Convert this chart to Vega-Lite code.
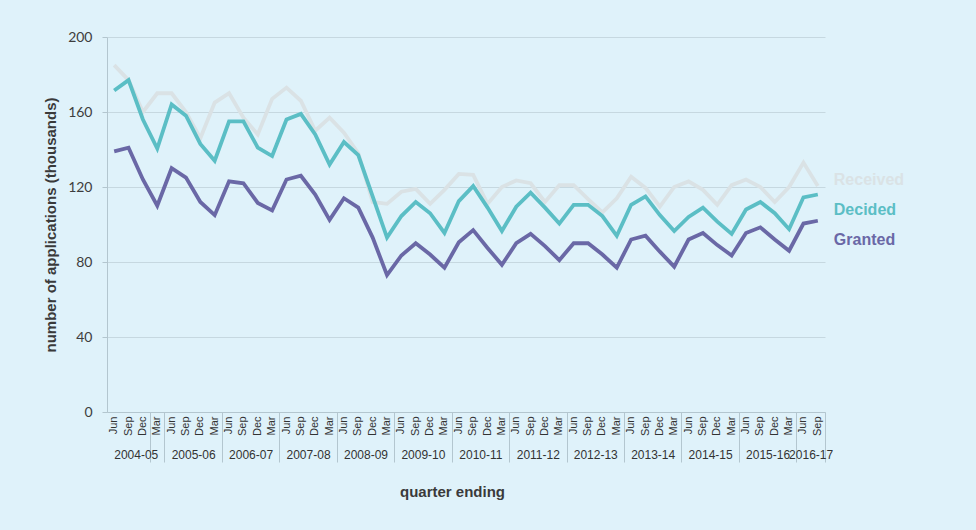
{
  "$schema": "https://vega.github.io/schema/vega-lite/v6.json",
  "autosize": "none",
  "width": 718,
  "height": 375,
  "padding": {"left": 107, "top": 37, "right": 151, "bottom": 118},
  "background": "#dff2fa",
  "config": {"view": {"stroke": null}},
  "datasets": {
    "apps": [
      {"period": "2004-05 Jun", "Received": 185, "Decided": 171.5, "Granted": 139},
      {"period": "2004-05 Sep", "Received": 177, "Decided": 177, "Granted": 141},
      {"period": "2004-05 Dec", "Received": 160, "Decided": 156, "Granted": 124},
      {"period": "2004-05 Mar", "Received": 170, "Decided": 140.5, "Granted": 110},
      {"period": "2005-06 Jun", "Received": 170, "Decided": 164, "Granted": 130},
      {"period": "2005-06 Sep", "Received": 160, "Decided": 158, "Granted": 125},
      {"period": "2005-06 Dec", "Received": 146, "Decided": 143, "Granted": 112},
      {"period": "2005-06 Mar", "Received": 165, "Decided": 134, "Granted": 105},
      {"period": "2006-07 Jun", "Received": 170, "Decided": 155, "Granted": 123},
      {"period": "2006-07 Sep", "Received": 157, "Decided": 155, "Granted": 122},
      {"period": "2006-07 Dec", "Received": 148, "Decided": 141, "Granted": 111.5},
      {"period": "2006-07 Mar", "Received": 167, "Decided": 136.5, "Granted": 107.5},
      {"period": "2007-08 Jun", "Received": 173, "Decided": 156, "Granted": 124},
      {"period": "2007-08 Sep", "Received": 166, "Decided": 159, "Granted": 126},
      {"period": "2007-08 Dec", "Received": 150, "Decided": 148, "Granted": 116},
      {"period": "2007-08 Mar", "Received": 157, "Decided": 132, "Granted": 102.5},
      {"period": "2008-09 Jun", "Received": 149, "Decided": 144, "Granted": 114},
      {"period": "2008-09 Sep", "Received": 138, "Decided": 137, "Granted": 109},
      {"period": "2008-09 Dec", "Received": 112, "Decided": 115, "Granted": 93},
      {"period": "2008-09 Mar", "Received": 111, "Decided": 93, "Granted": 73},
      {"period": "2009-10 Jun", "Received": 117.5, "Decided": 104.5, "Granted": 83.5},
      {"period": "2009-10 Sep", "Received": 119, "Decided": 112, "Granted": 90},
      {"period": "2009-10 Dec", "Received": 111, "Decided": 106, "Granted": 84},
      {"period": "2009-10 Mar", "Received": 118.5, "Decided": 95.5, "Granted": 77},
      {"period": "2010-11 Jun", "Received": 127, "Decided": 112.5, "Granted": 90.5},
      {"period": "2010-11 Sep", "Received": 126.5, "Decided": 120.5, "Granted": 97},
      {"period": "2010-11 Dec", "Received": 111, "Decided": 109, "Granted": 87.5},
      {"period": "2010-11 Mar", "Received": 120, "Decided": 96.5, "Granted": 78.5},
      {"period": "2011-12 Jun", "Received": 123.5, "Decided": 109.5, "Granted": 90},
      {"period": "2011-12 Sep", "Received": 122, "Decided": 117, "Granted": 95},
      {"period": "2011-12 Dec", "Received": 112, "Decided": 109, "Granted": 88.5},
      {"period": "2011-12 Mar", "Received": 121, "Decided": 100.5, "Granted": 81},
      {"period": "2012-13 Jun", "Received": 121, "Decided": 110.5, "Granted": 90},
      {"period": "2012-13 Sep", "Received": 113.5, "Decided": 110.5, "Granted": 90},
      {"period": "2012-13 Dec", "Received": 106.5, "Decided": 104.5, "Granted": 84},
      {"period": "2012-13 Mar", "Received": 114, "Decided": 94, "Granted": 77},
      {"period": "2013-14 Jun", "Received": 125.5, "Decided": 110.5, "Granted": 92},
      {"period": "2013-14 Sep", "Received": 119.5, "Decided": 115, "Granted": 94},
      {"period": "2013-14 Dec", "Received": 109.5, "Decided": 105, "Granted": 85.5},
      {"period": "2013-14 Mar", "Received": 120, "Decided": 96.5, "Granted": 77.5},
      {"period": "2014-15 Jun", "Received": 123, "Decided": 104, "Granted": 92},
      {"period": "2014-15 Sep", "Received": 118.5, "Decided": 109, "Granted": 95.5},
      {"period": "2014-15 Dec", "Received": 110.5, "Decided": 101.5, "Granted": 89},
      {"period": "2014-15 Mar", "Received": 121, "Decided": 95, "Granted": 83.5},
      {"period": "2015-16 Jun", "Received": 124, "Decided": 108, "Granted": 95.5},
      {"period": "2015-16 Sep", "Received": 120, "Decided": 112, "Granted": 98.5},
      {"period": "2015-16 Dec", "Received": 112, "Decided": 106, "Granted": 92},
      {"period": "2015-16 Mar", "Received": 120, "Decided": 97.5, "Granted": 86},
      {"period": "2016-17 Jun", "Received": 133, "Decided": 114.5, "Granted": 100.5},
      {"period": "2016-17 Sep", "Received": 120.5, "Decided": 116, "Granted": 102}
    ],
    "labels": [
      {"period": "2016-17 Sep", "series": "Received", "value": 123.7},
      {"period": "2016-17 Sep", "series": "Decided", "value": 108},
      {"period": "2016-17 Sep", "series": "Granted", "value": 92}
    ]
  },
  "layer": [
    {
      "data": {"name": "apps"},
      "transform": [{"fold": ["Received", "Decided", "Granted"], "as": ["series", "value"]}],
      "mark": {"type": "line", "strokeWidth": 3.8, "strokeJoin": "miter"},
      "encoding": {
        "x": {
          "field": "period", "type": "ordinal",
          "scale": {"type": "band", "paddingInner": 0, "paddingOuter": 0, "domain": [
            "2004-05 Jun","2004-05 Sep","2004-05 Dec","2004-05 Mar",
            "2005-06 Jun","2005-06 Sep","2005-06 Dec","2005-06 Mar",
            "2006-07 Jun","2006-07 Sep","2006-07 Dec","2006-07 Mar",
            "2007-08 Jun","2007-08 Sep","2007-08 Dec","2007-08 Mar",
            "2008-09 Jun","2008-09 Sep","2008-09 Dec","2008-09 Mar",
            "2009-10 Jun","2009-10 Sep","2009-10 Dec","2009-10 Mar",
            "2010-11 Jun","2010-11 Sep","2010-11 Dec","2010-11 Mar",
            "2011-12 Jun","2011-12 Sep","2011-12 Dec","2011-12 Mar",
            "2012-13 Jun","2012-13 Sep","2012-13 Dec","2012-13 Mar",
            "2013-14 Jun","2013-14 Sep","2013-14 Dec","2013-14 Mar",
            "2014-15 Jun","2014-15 Sep","2014-15 Dec","2014-15 Mar",
            "2015-16 Jun","2015-16 Sep","2015-16 Dec","2015-16 Mar",
            "2016-17 Jun","2016-17 Sep"]},
          "axis": {
            "orient": "bottom",
            "labelExpr": "split(datum.value, ' ')[1]",
            "labelAngle": 270,
            "labelFont": "Liberation Sans",
            "labelFontSize": 11,
            "labelColor": "#333333",
            "labelPadding": 4,
            "labelOverlap": false,
            "ticks": false,
            "domain": true,
            "domainColor": "#b3c6cf",
            "grid": false,
            "title": "quarter ending",
            "titleFont": "Liberation Sans",
            "titleFontSize": 15,
            "titleFontWeight": "bold",
            "titleColor": "#3a3a3a",
            "titleX": 345,
            "titleY": 79,
            "titleBaseline": "middle"
          }
        },
        "y": {
          "field": "value", "type": "quantitative",
          "scale": {"domain": [0, 200]},
          "axis": {
            "values": [0, 40, 80, 120, 160, 200],
            "grid": true,
            "gridColor": "#c6d8e0",
            "domainColor": "#b3c6cf",
            "tickColor": "#b3c6cf",
            "tickSize": 5,
            "labelPadding": 10,
            "labelFont": "Lato",
            "labelFontSize": 14,
            "labelColor": "#3d3d3d",
            "title": "number of applications (thousands)",
            "titleFont": "Liberation Sans",
            "titleFontSize": 15,
            "titleFontWeight": "bold",
            "titleColor": "#3a3a3a",
            "titlePadding": 9
          }
        },
        "color": {
          "field": "series", "type": "nominal",
          "scale": {"domain": ["Received", "Decided", "Granted"], "range": ["#dae2e5", "#5bbec5", "#6a68a6"]},
          "legend": null
        }
      }
    },
    {
      "data": {"name": "labels"},
      "mark": {"type": "text", "align": "left", "baseline": "middle", "dx": 16, "font": "Liberation Sans", "fontSize": 16, "fontWeight": "bold"},
      "encoding": {
        "x": {
          "field": "period", "type": "ordinal",
          "axis": {
            "orient": "bottom",
            "values": ["2004-05 Mar","2005-06 Mar","2006-07 Mar","2007-08 Mar","2008-09 Mar","2009-10 Mar","2010-11 Mar","2011-12 Mar","2012-13 Mar","2013-14 Mar","2014-15 Mar","2015-16 Mar","2016-17 Sep"],
            "tickBand": "extent",
            "tickSize": 50,
            "tickColor": "#b3c6cf",
            "domain": false,
            "grid": false,
            "labelExpr": "isString(datum.value) ? split(datum.value, ' ')[0] : ''",
            "labelAngle": 0,
            "labelAlign": "center",
            "labelBaseline": "top",
            "labelPadding": -13,
            "labelFont": "Liberation Sans",
            "labelFontSize": 12,
            "labelColor": "#333333",
            "labelOverlap": false,
            "title": null,
            "labelOffset": {"condition": {"test": "datum.value === '2016-17 Sep'", "value": -7.18}, "value": -21.54}
          }
        },
        "y": {"field": "value", "type": "quantitative"},
        "text": {"field": "series"},
        "color": {"field": "series", "type": "nominal", "legend": null}
      }
    }
  ],
  "resolve": {"axis": {"x": "independent"}}
}
